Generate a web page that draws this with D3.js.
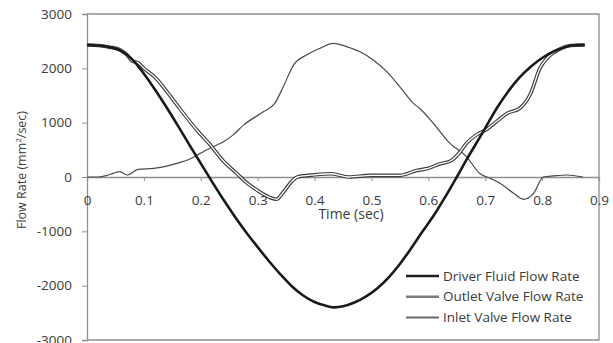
<!DOCTYPE html>
<html>
<head>
<meta charset="utf-8">
<script src="https://cdn.jsdelivr.net/npm/d3@7"></script>
<style>
  body { margin: 0; background: #fff; }
  text { font-family: "Open Sans", sans-serif; fill: #3a3a3a; }
</style>
</head>
<body>
<div id="vis-tag"></div>
<script>
// 数据：时间 (sec) 与流量 (mm²/sec)
const driverT = [0, 0.02, 0.04, 0.06, 0.08, 0.1, 0.12, 0.14, 0.16, 0.18, 0.2, 0.22, 0.24, 0.26, 0.28, 0.3, 0.32, 0.34, 0.36, 0.38, 0.4, 0.42, 0.435, 0.45, 0.47, 0.49, 0.51, 0.53, 0.55, 0.57, 0.59, 0.61, 0.63, 0.65, 0.67, 0.69, 0.7, 0.72, 0.74, 0.76, 0.78, 0.8, 0.82, 0.84, 0.86, 0.875];
const driverV = [2430, 2420, 2390, 2320, 2160, 1900, 1600, 1280, 940, 590, 250, -90, -420, -730, -1020, -1290, -1550, -1790, -2010, -2180, -2300, -2370, -2400, -2380, -2310, -2200, -2050, -1850, -1600, -1310, -1000, -700, -360, 0, 370, 720, 900, 1260, 1570, 1830, 2030, 2190, 2310, 2390, 2430, 2430];

const outletT = [0, 0.02, 0.04, 0.058, 0.07, 0.08, 0.09, 0.1, 0.12, 0.134, 0.16, 0.193, 0.216, 0.24, 0.263, 0.28, 0.3, 0.32, 0.333, 0.345, 0.36, 0.37, 0.4, 0.43, 0.46, 0.5, 0.55, 0.58, 0.6, 0.62, 0.64, 0.656, 0.667, 0.685, 0.703, 0.72, 0.738, 0.761, 0.78, 0.796, 0.81, 0.83, 0.85, 0.875];
const outletV = [2430, 2420, 2390, 2340, 2250, 2130, 2100, 2000, 1830, 1660, 1300, 865, 600, 290, 68, -100, -250, -370, -410, -280, -80, 0, 40, 60, 0, 30, 30, 120, 160, 240, 300, 465, 620, 780, 880, 1020, 1170, 1265, 1540, 2000, 2200, 2350, 2420, 2430];

const inletT = [0, 0.02, 0.035, 0.046, 0.058, 0.07, 0.09, 0.117, 0.14, 0.158, 0.181, 0.199, 0.216, 0.24, 0.257, 0.275, 0.31, 0.33, 0.345, 0.363, 0.386, 0.41, 0.433, 0.456, 0.48, 0.503, 0.527, 0.55, 0.574, 0.585, 0.609, 0.638, 0.667, 0.69, 0.71, 0.726, 0.75, 0.767, 0.785, 0.802, 0.82, 0.843, 0.872];
const inletV = [0, 0, 30, 68, 100, 37, 140, 160, 200, 250, 330, 435, 530, 650, 775, 955, 1200, 1355, 1660, 2060, 2245, 2370, 2460, 2400, 2305, 2155, 1940, 1660, 1355, 1260, 985, 620, 375, 68, -30, -117, -300, -410, -300, 0, 20, 37, 0];

const xTicks = [0, 0.1, 0.2, 0.3, 0.4, 0.5, 0.6, 0.7, 0.8, 0.9];
const yTicks = [-3000, -2000, -1000, 0, 1000, 2000, 3000];
const legendNames = ["Driver Fluid Flow Rate", "Outlet Valve  Flow Rate", "Inlet Valve Flow Rate"];

const width = 613;
const height = 343;
const margin = { top: 14, right: 14, bottom: 3, left: 87 };

const svg = d3.select("#vis-tag").append("svg")
  .attr("width", width)
  .attr("height", height);

const x = d3.scaleLinear().domain([0, 0.9]).range([margin.left, width - margin.right]);
const y = d3.scaleLinear().domain([-3000, 3000]).range([height - margin.bottom, margin.top]);

const axisColor = "#8f8f8f";

// 外框（上、右、下）
svg.append("path")
  .attr("d", `M${x(0)},${y(3000)}H${x(0.9)}V${y(-3000)}H${x(0)}`)
  .attr("fill", "none")
  .attr("stroke", axisColor)
  .attr("stroke-width", 1.3);

// Y轴（用普通连字符作负号）
const yAxis = svg.append("g")
  .attr("transform", `translate(${x(0)},0)`)
  .call(d3.axisLeft(y).tickValues(yTicks).tickSize(5).tickPadding(10).tickFormat(d => String(d)));
yAxis.select(".domain").attr("stroke", axisColor).attr("stroke-width", 1.3);
yAxis.selectAll(".tick line").attr("stroke", axisColor);
yAxis.selectAll(".tick text").attr("font-size", 13.5).attr("font-family", "Open Sans").attr("fill", "#3a3a3a");

// X轴，放在零点
const xAxis = svg.append("g")
  .attr("transform", `translate(0,${y(0)})`)
  .call(d3.axisBottom(x).tickValues(xTicks).tickSize(4).tickPadding(14).tickFormat(d => d === 0 ? "0" : d3.format(".1f")(d)));
xAxis.select(".domain").attr("stroke", axisColor).attr("stroke-width", 1.3);
xAxis.selectAll(".tick line").attr("stroke", axisColor);
xAxis.selectAll(".tick text").attr("font-size", 13.5).attr("font-family", "Open Sans").attr("fill", "#3a3a3a");

// 轴标题
svg.append("text")
  .attr("x", 351)
  .attr("y", 219)
  .attr("text-anchor", "middle")
  .attr("font-size", 14)
  .text("Time (sec)");

const yLabel = svg.append("text")
  .attr("transform", "translate(26,170) rotate(-90)")
  .attr("text-anchor", "middle")
  .attr("font-size", 12.5);
yLabel.append("tspan").text("Flow Rate (mm");
yLabel.append("tspan").attr("font-size", 8).attr("dy", -5).text("2");
yLabel.append("tspan").attr("dy", 5).text("/sec)");

const line = d3.line().x(d => x(d[0])).y(d => y(d[1])).curve(d3.curveMonotoneX);
const zip = (ts, vs) => ts.map((t, i) => [t, vs[i]]);

// 入口阀（细线）
svg.append("path")
  .datum(zip(inletT, inletV))
  .attr("d", line)
  .attr("fill", "none")
  .attr("stroke", "#4a4a4a")
  .attr("stroke-width", 1.2);

// 出口阀（双线）
const outletPath = line(zip(outletT, outletV));
svg.append("path").attr("d", outletPath).attr("fill", "none").attr("stroke", "#3c3c3c").attr("stroke-width", 3.6);
svg.append("path").attr("d", outletPath).attr("fill", "none").attr("stroke", "#fff").attr("stroke-width", 1.3);

// 驱动流体（粗线）
svg.append("path")
  .datum(zip(driverT, driverV))
  .attr("d", line)
  .attr("fill", "none")
  .attr("stroke", "#1a1a1a")
  .attr("stroke-width", 2.6);

// 图例
const legendStyles = [
  { stroke: "#1f1f1f", w: 2.4 },
  { stroke: "#7a7a7a", w: 2.6 },
  { stroke: "#6a6a6a", w: 2 }
];
const legend = svg.append("g");
legendNames.forEach((name, i) => {
  const ly = 276 + i * 20.7;
  legend.append("line")
    .attr("x1", 406).attr("x2", 439)
    .attr("y1", ly).attr("y2", ly)
    .attr("stroke", legendStyles[i].stroke)
    .attr("stroke-width", legendStyles[i].w);
  legend.append("text")
    .attr("x", 443)
    .attr("y", ly)
    .attr("dy", "0.35em")
    .attr("font-size", 13.5)
    .attr("fill", "#444")
    .text(name);
});
</script>
</body>
</html>
